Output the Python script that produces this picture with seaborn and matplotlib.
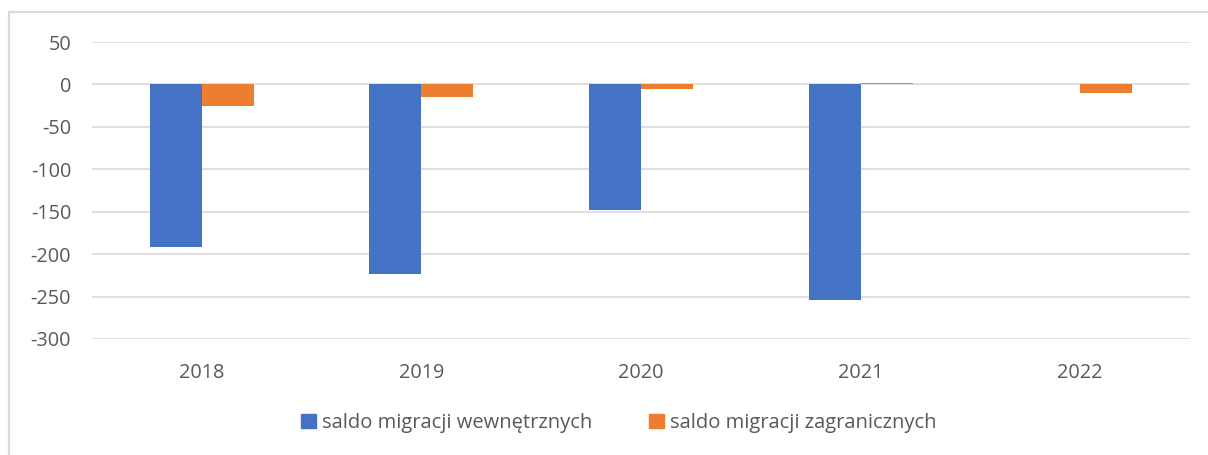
import matplotlib
matplotlib.use("Agg")
import matplotlib.pyplot as plt
import seaborn as sns
import pandas as pd
from matplotlib.patches import Rectangle
from matplotlib.lines import Line2D

years = ["2018", "2019", "2020", "2021", "2022"]
internal = [-192, -223, -148, -254, 0]
foreign = [-26, -15, -5, 2, -10]
series_names = ["saldo migracji wewnętrznych", "saldo migracji zagranicznych"]
yticks = [50, 0, -50, -100, -150, -200, -250, -300]

df = pd.DataFrame({
    "rok": years * 2,
    "wartosc": internal + foreign,
    "seria": [series_names[0]] * 5 + [series_names[1]] * 5,
})

sns.set_style("white")
plt.rcParams["font.family"] = ["Open Sans", "DejaVu Sans"]

W, H = 1208, 455
fig = plt.figure(figsize=(W / 100, H / 100), dpi=100)
ax = fig.add_axes([92/W, 1 - 339/H, (1190-92)/W, (339-42)/H])

palette = {series_names[0]: "#4472C4", series_names[1]: "#ED7D31"}
sns.barplot(data=df, x="rok", y="wartosc", hue="seria", palette=palette,
            width=0.474, ax=ax, legend=False, saturation=1, linewidth=0)

ax.set_ylim(-300, 50)
ax.set_yticks(yticks)
ax.set_yticklabels([str(v) for v in yticks])
ax.set_xlim(-0.5, 4.5)
ax.grid(axis="y", color="#D9D9D9", linewidth=1.2)
ax.set_axisbelow(True)
for s in ax.spines.values():
    s.set_visible(False)
ax.tick_params(axis="both", length=0, labelsize=14.3, colors="#595959")
ax.tick_params(axis="y", pad=15)
ax.tick_params(axis="x", pad=17)
ax.set_xlabel("")
ax.set_ylabel("")

handles = [Rectangle((0, 0), 1, 1, color=palette[n]) for n in series_names]
fig.legend(handles, series_names, loc="center", bbox_to_anchor=(0.512, 1 - 423/H),
           ncol=2, frameon=False, fontsize=14.5, handlelength=0.75, handleheight=0.75,
           handletextpad=0.3, columnspacing=2.8, labelcolor="#595959")

fig.add_artist(Line2D([9/W, 9/W], [0, 1 - 12/H], transform=fig.transFigure,
                      color="#D9D9D9", linewidth=1.6))
fig.add_artist(Line2D([9/W, 1], [1 - 12/H, 1 - 12/H], transform=fig.transFigure,
                      color="#D9D9D9", linewidth=1.6))

fig.savefig("out.png", dpi=100, facecolor="white")
